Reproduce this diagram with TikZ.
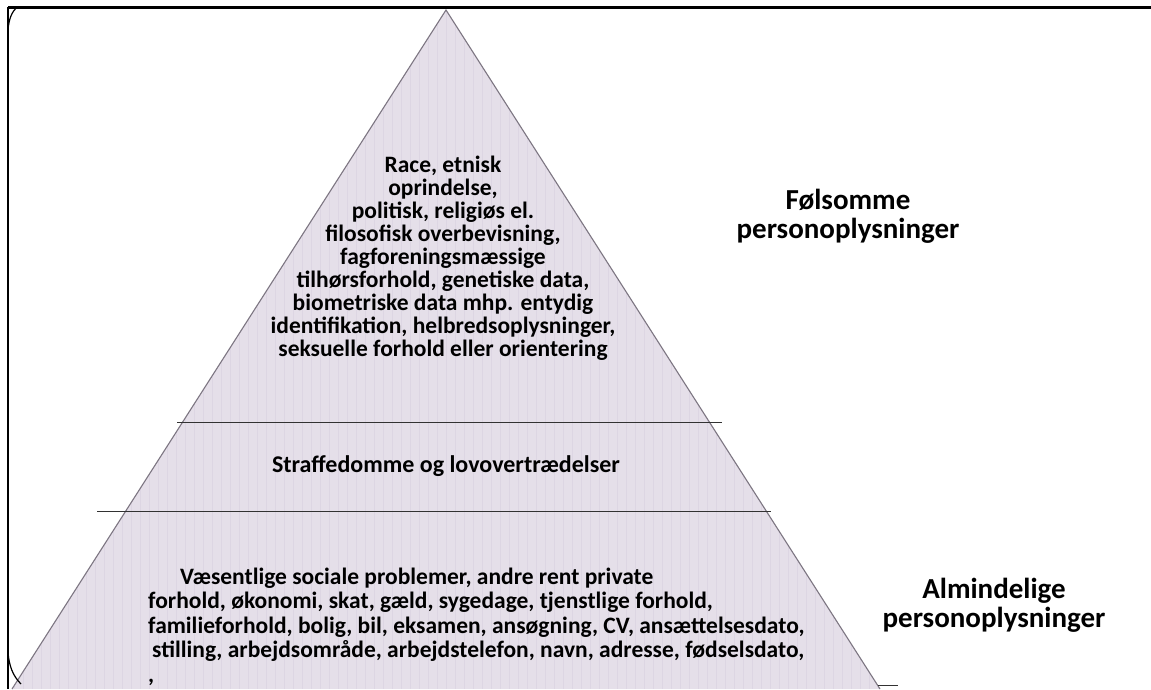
\documentclass[tikz,border=0pt]{standalone}
\usepackage{fontspec}
\setmainfont{Carlito}
\definecolor{pyrfill}{RGB}{229,223,233}
\definecolor{pyrstripe}{RGB}{221,214,227}
\definecolor{pyredge}{RGB}{125,118,130}
\definecolor{sepline}{RGB}{50,50,50}
\begin{document}
\begin{tikzpicture}[x=1pt,y=-1pt,
  sepstyle/.style={draw=sepline,line width=1pt},
  bodytext/.style={font=\bfseries\fontsize{23.5}{23}\selectfont,inner sep=0pt},
  strafftext/.style={font=\bfseries\fontsize{24}{24}\selectfont,inner sep=0pt},
  lowtext/.style={font=\bfseries\fontsize{23.5}{24.5}\selectfont,inner sep=0pt},
  sidelabel/.style={font=\bfseries\fontsize{29}{29}\selectfont,inner sep=0pt,align=center}]
\useasboundingbox (0,0) rectangle (1151,689);
\fill[white] (0,0) rectangle (1151,689);
% pyramid
\coordinate (apex) at (446,10);
\coordinate (bl) at (12,689);
\coordinate (br) at (880,689);
\fill[pyrfill] (apex) -- (bl) -- (br) -- cycle;
\begin{scope}
  \clip (apex) -- (bl) -- (br) -- cycle;
  \foreach \xx in {14,23,...,880} {\draw[pyrstripe,line width=0.6pt] (\xx,0) -- (\xx,689);}
\end{scope}
\draw[pyredge,line width=1.1pt] (bl) -- (apex) -- (br);
% separators
\coordinate (s1l) at (177,422);
\coordinate (s1r) at (722,422);
\coordinate (s2l) at (97,511);
\coordinate (s2r) at (771,511);
\draw[sepstyle] (s1l) -- (s1r);
\draw[sepstyle] (s2l) -- (s2r);
\coordinate (b1) at (878,685);
\coordinate (b2) at (898,685);
\draw[sepstyle] (b1) -- (b2);
% frame
\coordinate (f0) at (8,7);
\coordinate (f1) at (1151,7);
\coordinate (f2) at (8,689);
\draw[black,line width=3pt] (f0) -- (f1);
\draw[black,line width=1.8pt] (f0) -- (f2);
\draw[black,line width=1.2pt] (8,30) .. controls (9,18) and (12,12) .. (17,7);
\draw[black,line width=1.2pt] (8,652) .. controls (9,666) and (13,676) .. (21,684);
% texts
\node[bodytext,align=center,anchor=base] (sens) at (443,356)
  {Race, etnisk\\oprindelse,\\politisk, religiøs el.\\filosofisk overbevisning,\\fagforeningsmæssige\\tilhørsforhold, genetiske data,\\biometriske data mhp. entydig\\identifikation, helbredsoplysninger,\\seksuelle forhold eller orientering};
\node[strafftext,anchor=base] (straf) at (446,472) {Straffedomme og lovovertrædelser};
\node[lowtext,align=left,anchor=base west] (alm) at (148,682)
  {\hspace{32pt}Væsentlige sociale problemer, andre rent private\\forhold, økonomi, skat, gæld, sygedage, tjenstlige forhold,\\familieforhold, bolig, bil, eksamen, ansøgning, CV, ansættelsesdato,\\\hspace{4pt}stilling, arbejdsområde, arbejdstelefon, navn, adresse, fødselsdato,\\,};
\node[sidelabel,anchor=base] (lab1) at (848,238) {Følsomme\\personoplysninger};
\node[sidelabel,anchor=base] (lab2) at (994,627) {Almindelige\\personoplysninger};
\end{tikzpicture}
\end{document}
